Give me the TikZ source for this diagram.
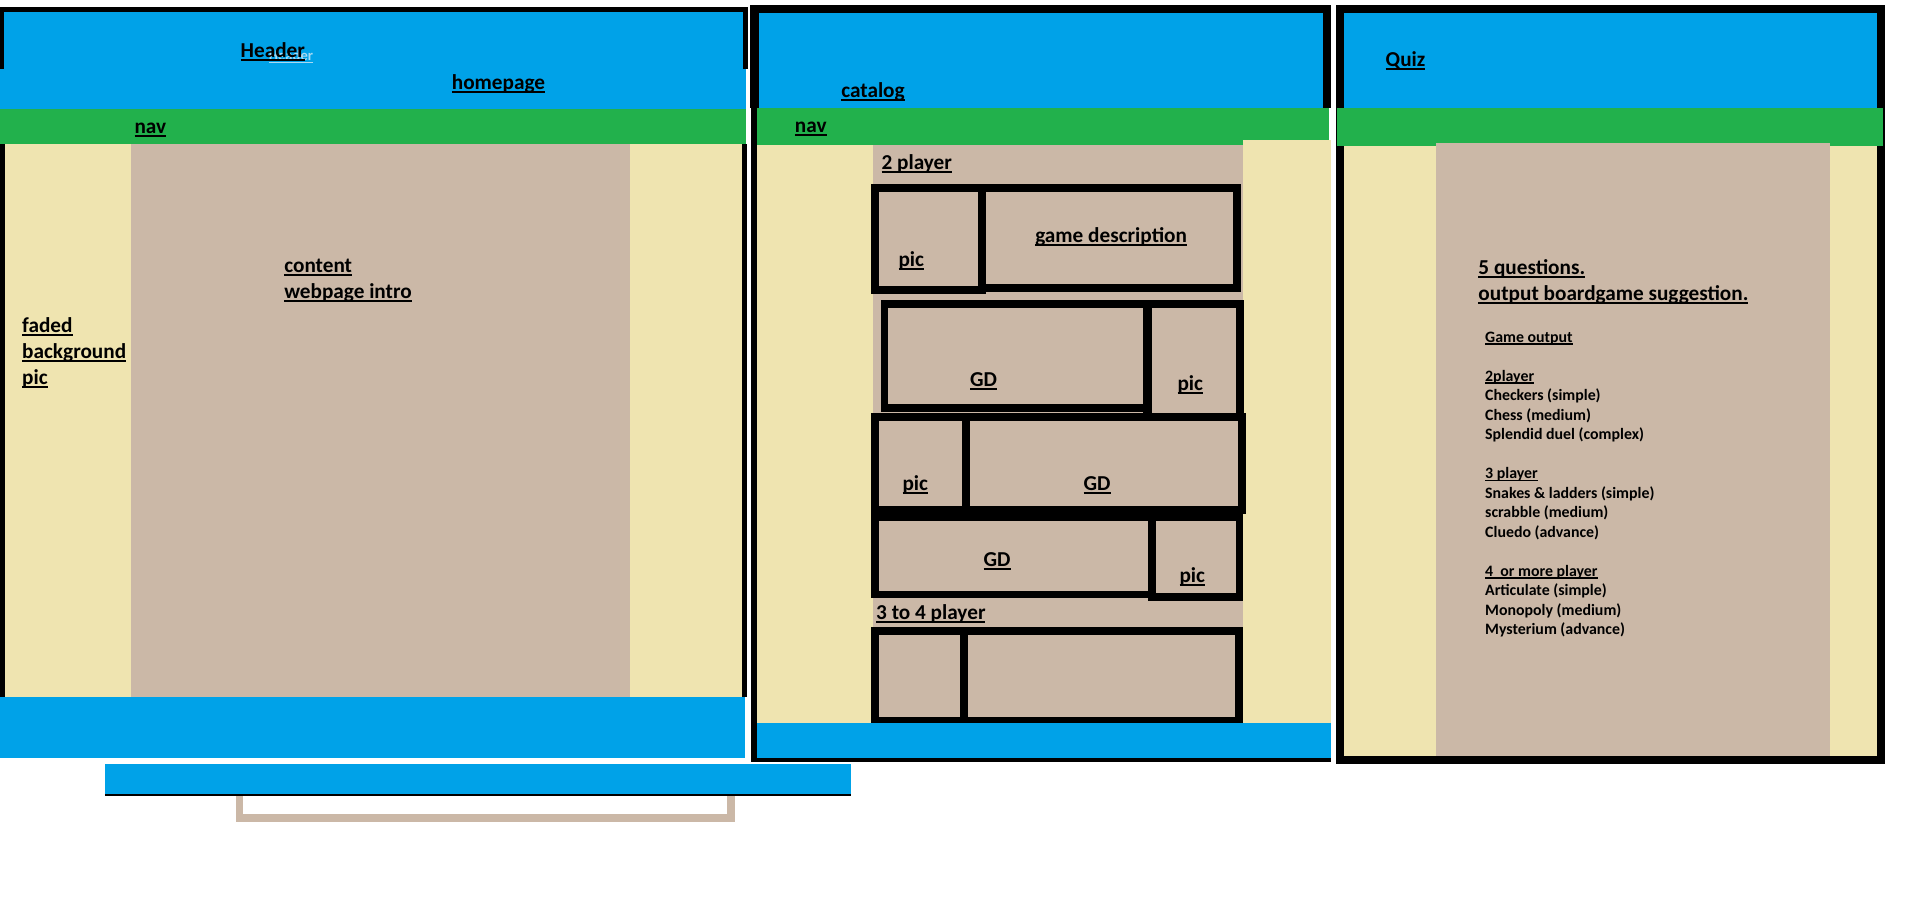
\documentclass[tikz,border=0pt]{standalone}
\usepackage{fontspec}
\setmainfont{Carlito}
\definecolor{hdrblue}{HTML}{00A2E8}
\definecolor{navgreen}{HTML}{22B14C}
\definecolor{sand}{HTML}{EFE4B0}
\definecolor{boxtan}{HTML}{CBB8A7}
\definecolor{ghost}{HTML}{A8D9F2}
% underlined label text
\newcommand{\ulin}[1]{\setbox0=\hbox{#1}\rlap{\rule[-0.16em]{\wd0}{0.09em}}\box0}
\tikzset{
  big/.style={anchor=base west, inner sep=0pt, yshift=-1pt, font=\bfseries\fontsize{17.4}{21.2}\selectfont},
  small/.style={anchor=base west, inner sep=0pt, yshift=-1pt, font=\bfseries\fontsize{13}{15.95}\selectfont},
  cell/.style={draw=black, line width=6.5pt},
}
\begin{document}
\begin{tikzpicture}[x=1pt,y=-1pt]
\useasboundingbox (0,0) rectangle (1568,753);
\fill[white] (0,0) rectangle (1568,753);

% ---------- homepage ----------
\fill[black] (0,5.7) rectangle (613,56.5);
\fill[hdrblue] (3.5,10) rectangle (609,56.5);
\fill[hdrblue] (0,56.5) rectangle (611,89.6);
\fill[navgreen] (0,89.6) rectangle (611,118);
\fill[black] (0,118) rectangle (611.7,570.7);
\fill[sand] (4,118) rectangle (607.8,570.7);
\fill[boxtan] (107,118) rectangle (516,570.7);
\fill[hdrblue] (0,570.7) rectangle (610.6,620.7);
% footer strip and bracket
\draw[boxtan, line width=6.4pt] (196.2,652) -- (196.2,669.8) -- (598.8,669.8) -- (598.8,652);
\fill[hdrblue] (86,626) rectangle (697.5,652);
\draw[black, line width=1.2pt] (86,651.4) -- (697.5,651.4);

\node[anchor=base west, inner sep=0pt, yshift=-1pt, text=ghost, font=\bfseries\fontsize{12}{14}\selectfont] (hghost) at (220,48.6) {\ulin{Header}};
\node[big] (hdr) at (197,46.4) {\ulin{Header}};
\node[big] (home) at (370,72.4) {\ulin{homepage}};
\node[big] (nav1) at (110,108.7) {\ulin{nav}};
\node[big] (cont) at (232.7,222.5) {\ulin{content}};
\node[big] (intro) at (232.7,243.6) {\ulin{webpage intro}};
\node[big] (fad1) at (18,271.7) {\ulin{faded}};
\node[big] (fad2) at (18,292.9) {\ulin{background}};
\node[big] (fad3) at (18,314.1) {\ulin{pic}};

% ---------- catalog ----------
\fill[black] (614.4,4) rectangle (1090,88.4);
\fill[hdrblue] (621.5,10.4) rectangle (1083.6,88.4);
\fill[black] (615.2,88.4) rectangle (619.9,624.5);
\fill[navgreen] (619.9,88.4) rectangle (1088.7,118.8);
\fill[sand] (619.9,118.8) rectangle (1090,592);
\fill[sand] (1018.4,114.7) rectangle (1090,118.8);
\fill[boxtan] (715,118.8) rectangle (1018.4,592);
\fill[hdrblue] (619.9,592) rectangle (1090,621.2);
\fill[black] (615.2,621.2) rectangle (1090,624.5);

% game rows
\draw[cell] (716.8,153.9) rectangle (804.4,237.7);
\draw[cell] (804.4,153.9) rectangle (1013.2,235.9);
\draw[cell] (724.6,248.9) rectangle (940,334);
\draw[cell, line width=7pt] (940,248.9) rectangle (1015.8,341.5);
\draw[cell] (716.8,341.8) rectangle (791.3,417.5);
\draw[cell] (791.3,341.8) rectangle (1017.4,417.5);
\draw[cell] (716.8,423.2) rectangle (943.8,487);
\draw[cell] (943.8,423.2) rectangle (1015.4,489);
\draw[cell] (716.8,516.9) rectangle (790.1,590.5);
\draw[cell] (790.1,516.9) rectangle (1015,590.5);
\fill[hdrblue] (619.9,592) rectangle (1090,621.2);

\node[big] (cat) at (689,79.2) {\ulin{catalog}};
\node[big] (nav2) at (651,107.3) {\ulin{nav}};
\node[big] (two) at (722,137.9) {\ulin{2 player}};
\node[big] (pa) at (735.9,217.1) {\ulin{pic}};
\node[big] (gdesc) at (847.9,198) {\ulin{game description}};
\node[big] (gda) at (794.6,315.4) {\ulin{GD}};
\node[big] (pb) at (964.5,318.9) {\ulin{pic}};
\node[big] (pc) at (739.2,400.9) {\ulin{pic}};
\node[big] (gdb) at (887.5,400.9) {\ulin{GD}};
\node[big] (gdc) at (805.6,463.4) {\ulin{GD}};
\node[big] (pd) at (966.1,476.5) {\ulin{pic}};
\node[big] (three) at (717.6,506.5) {\ulin{3 to 4 player}};

% ---------- quiz ----------
\fill[black] (1094.5,4) rectangle (1544.2,625.9);
\fill[hdrblue] (1101,10.4) rectangle (1537.4,88.5);
\fill[navgreen] (1095.6,88.5) rectangle (1542.6,119.3);
\fill[sand] (1101,119.3) rectangle (1537.4,619.3);
\fill[boxtan] (1176.5,116.9) rectangle (1499,619.3);

\node[big] (quiz) at (1135,53.2) {\ulin{Quiz}};
\node[big] (q1) at (1211,223.9) {\ulin{5 questions.}};
\node[big] (q2) at (1211,245.2) {\ulin{output boardgame suggestion.}};

\node[small] (go) at (1216.5,279.3) {\ulin{Game output}};
\node[small] (l2) at (1216.5,311.2) {\ulin{2player}};
\node[small] (l2a) at (1216.5,327.1) {Checkers (simple)};
\node[small] (l2b) at (1216.5,343.1) {Chess (medium)};
\node[small] (l2c) at (1216.5,359.1) {Splendid duel (complex)};
\node[small] (l3) at (1216.5,391) {\ulin{3 player}};
\node[small] (l3a) at (1216.5,407) {Snakes \& ladders (simple)};
\node[small] (l3b) at (1216.5,423) {scrabble (medium)};
\node[small] (l3c) at (1216.5,439) {Cluedo (advance)};
\node[small] (l4) at (1216.5,471) {\ulin{4~ or more player}};
\node[small] (l4a) at (1216.5,487) {Articulate (simple)};
\node[small] (l4b) at (1216.5,503) {Monopoly (medium)};
\node[small] (l4c) at (1216.5,519) {Mysterium (advance)};
\end{tikzpicture}
\end{document}
